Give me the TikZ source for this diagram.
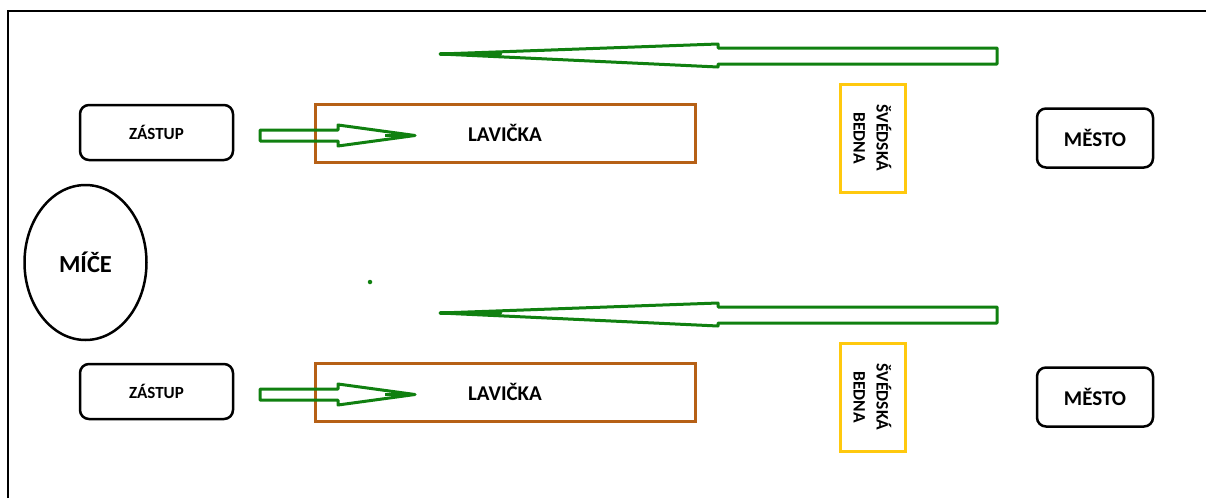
\documentclass[tikz,border=0pt]{standalone}
\usepackage{fontspec}
\setmainfont{Carlito}
\usetikzlibrary{shapes.geometric,positioning,calc}

\definecolor{arrowgreen}{RGB}{16,128,16}
\definecolor{benchbrown}{RGB}{182,96,22}
\definecolor{boxgold}{RGB}{255,201,14}

\begin{document}
\begin{tikzpicture}[
    x=1pt, y=-1pt,
    crowd/.style={rectangle, draw=black, line width=2.5pt, rounded corners=9pt,
                  minimum width=153pt, minimum height=55pt, text centered,
                  font=\bfseries\fontsize{17}{19}\selectfont},
    town/.style={rectangle, draw=black, line width=2.5pt, rounded corners=9pt,
                 minimum width=116pt, minimum height=59pt, text centered,
                 font=\bfseries\fontsize{21}{24}\selectfont},
    bench/.style={rectangle, draw=benchbrown, line width=3pt,
                  minimum width=380pt, minimum height=58pt, text centered,
                  font=\bfseries\fontsize{21}{24}\selectfont},
    crate/.style={rectangle, draw=boxgold, line width=3pt, rotate=-90,
                  minimum width=108pt, minimum height=65pt, align=center,
                  font=\bfseries\fontsize{17.5}{23}\selectfont},
    ball/.style={ellipse, draw=black, line width=2.5pt,
                 minimum width=122pt, minimum height=155pt,
                 font=\bfseries\fontsize{24.5}{28}\selectfont},
    blockarrow/.style={draw=arrowgreen, line width=3pt, line join=round}
]
\useasboundingbox (0,0) rectangle (1206,498);

% Frame
\draw[line width=2pt] (8,498) -- (8,11) -- (1206,11);

% Ball area on the left
\node[ball] (mice) at (85.5,262.5) {MÍČE};
\node[circle, fill=arrowgreen, inner sep=0pt, minimum size=4.5pt] (dot) at (370,282) {};

% Two rows
\foreach \r/\dy in {a/0, b/259} {
    \node[crowd] (zastup-\r) at (156.5,132.5+\dy) {ZÁSTUP};
    \node[bench] (lavicka-\r) at (505,133+\dy) {LAVIČKA};
    \node[crate] (bedna-\r) at (872.5,138+\dy) {ŠVÉDSKÁ\\BEDNA};
    \node[town] (mesto-\r) at (1095,138+\dy) {MĚSTO};

    % crowd towards bench
    \draw[blockarrow] (260,130+\dy) -- (338,130+\dy) -- (338,125+\dy)
        -- (415,135.5+\dy) -- (338,146+\dy) -- (338,141+\dy)
        -- (260,141+\dy) -- cycle;
    \draw[arrowgreen, line width=3pt] (385,135.5+\dy) -- (415,135.5+\dy);

    % way back from the crate
    \draw[blockarrow] (440,54+\dy) -- (718,44+\dy) -- (718,48+\dy)
        -- (997,48+\dy) -- (997,64+\dy) -- (718,64+\dy)
        -- (718,67+\dy) -- cycle;
    \draw[arrowgreen, line width=4pt, line cap=round] (441,54+\dy) -- (500,54+\dy);
}

\end{tikzpicture}
\end{document}
